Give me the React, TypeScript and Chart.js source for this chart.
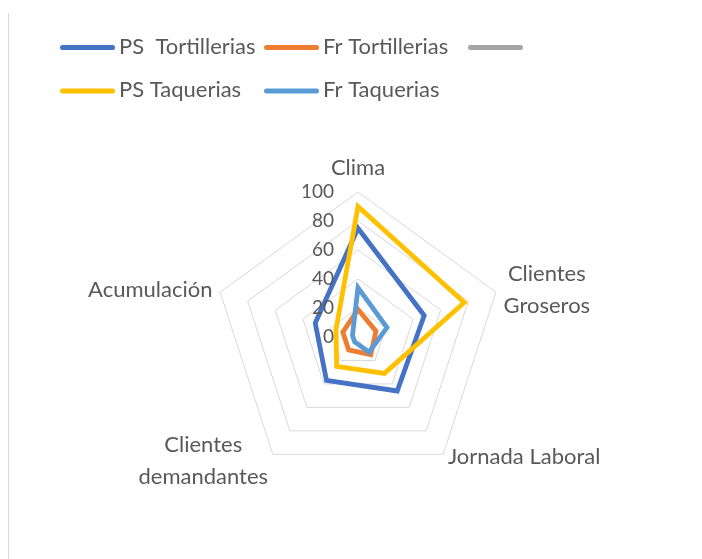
import { useEffect, useRef } from 'react';
import { Chart, registerables } from 'chart.js';

Chart.register(...registerables);

// ---- data ----
const CATEGORIES: (string | string[])[] = [
  'Clima',
  ['Clientes', 'Groseros'],
  'Jornada Laboral',
  ['Clientes', 'demandantes'],
  'Acumulación',
];
const SERIES_LABELS = ['PS  Tortillerias', 'Fr Tortillerias', '', 'PS Taquerias', 'Fr Taquerias'];
const PS_TORTILLERIAS = [75, 48, 46, 37, 31];
const FR_TORTILLERIAS = [19, 13, 15, 11, 11];
const SERIE_3: (number | null)[] = [null, null, null, null, null];
const PS_TAQUERIAS = [90, 77, 31, 25, 16];
const FR_TAQUERIAS = [34, 21, 13, 4, 4];
const SERIES_COLORS = ['#4472C4', '#ED7D31', '#A5A5A5', '#FFC000', '#5B9BD5'];
const AXIS_MIN = 0;
const AXIS_MAX = 100;
const AXIS_STEP = 20;

// ---- styles ----
const FONT_FAMILY = 'Lato, "Liberation Sans", sans-serif';
const TEXT_COLOR = '#595959';
const GRID_COLOR = '#D9D9D9';

const excelDecor = {
  id: 'excelDecor',
  afterDraw(chart: any) {
    const ctx: CanvasRenderingContext2D = chart.ctx;
    const scale = chart.scales.r;
    ctx.save();

    // left border of the chart area
    ctx.strokeStyle = GRID_COLOR;
    ctx.lineWidth = 1;
    ctx.beginPath();
    ctx.moveTo(8.5, 13);
    ctx.lineTo(8.5, chart.height);
    ctx.stroke();

    // tick labels (right aligned, left of the vertical axis)
    ctx.font = `19px ${FONT_FAMILY}`;
    ctx.fillStyle = TEXT_COLOR;
    ctx.textAlign = 'right';
    ctx.textBaseline = 'middle';
    scale.ticks.forEach((t: any) => {
      const d = scale.getDistanceFromCenterForValue(t.value);
      ctx.fillText(String(t.label ?? t.value), scale.xCenter - 24, scale.yCenter - d);
    });

    // point labels
    ctx.font = `22px ${FONT_FAMILY}`;
    const LH = 32;
    (chart.data.labels as (string | string[])[]).forEach((lab, i) => {
      const lines = Array.isArray(lab) ? lab : [lab];
      const p = scale.getPointPosition(i, scale.drawingArea + 8);
      const dx = p.x - scale.xCenter;
      const dy = p.y - scale.yCenter;
      const bw = Math.max(...lines.map((l) => ctx.measureText(l).width));
      let cx: number;
      let midY = p.y;
      if (Math.abs(dx) < 1) {
        cx = p.x;
        midY = p.y - (lines.length * LH) / 2;
      } else if (dx > 0) {
        cx = p.x + bw / 2;
      } else {
        cx = p.x - bw / 2;
      }
      if (dy > 0 && lines.length === 1) midY -= 4;
      ctx.textAlign = 'center';
      ctx.textBaseline = 'middle';
      lines.forEach((l, k) => {
        ctx.fillText(l, cx, midY + (k - (lines.length - 1) / 2) * LH);
      });
    });

    // legend (grid of 3 columns, as in Excel)
    const LX = 60;
    const LY = 47.5;
    const COL_W = 204;
    const ROW_H = 43.5;
    const LINE_LEN = 55;
    ctx.font = `22px ${FONT_FAMILY}`;
    chart.data.datasets.forEach((ds: any, i: number) => {
      const col = i % 3;
      const row = Math.floor(i / 3);
      const x = LX + col * COL_W;
      const y = LY + row * ROW_H;
      ctx.strokeStyle = ds.borderColor;
      ctx.lineWidth = 5;
      ctx.lineCap = 'round';
      ctx.beginPath();
      ctx.moveTo(x + 2.5, y);
      ctx.lineTo(x + LINE_LEN - 2.5, y);
      ctx.stroke();
      ctx.fillStyle = TEXT_COLOR;
      ctx.textAlign = 'left';
      ctx.textBaseline = 'middle';
      ctx.fillText(ds.label, x + LINE_LEN + 4, y - 1);
    });

    ctx.restore();
  },
};

export default function App() {
  const ref = useRef<HTMLCanvasElement>(null);

  useEffect(() => {
    if (!ref.current) return;
    const seriesData = [PS_TORTILLERIAS, FR_TORTILLERIAS, SERIE_3, PS_TAQUERIAS, FR_TAQUERIAS];
    const chart = new Chart(ref.current, {
      type: 'radar',
      data: {
        labels: CATEGORIES as any,
        datasets: seriesData.map((d, i) => ({
          label: SERIES_LABELS[i],
          data: d as any,
          borderColor: SERIES_COLORS[i],
          backgroundColor: 'transparent',
          fill: false,
          borderWidth: 4.8,
          pointRadius: 0,
          pointHoverRadius: 0,
          order: seriesData.length - i,
        })),
      },
      options: {
        animation: false,
        responsive: true,
        maintainAspectRatio: false,
        layout: { padding: { top: 192, bottom: 77, left: 60, right: 46 } },
        plugins: { legend: { display: false }, tooltip: { enabled: false } },
        elements: { line: { tension: 0, borderJoinStyle: 'miter' } },
        scales: {
          r: {
            min: AXIS_MIN,
            max: AXIS_MAX,
            ticks: { stepSize: AXIS_STEP, display: false },
            grid: { color: GRID_COLOR, lineWidth: 1 },
            angleLines: { display: false },
            pointLabels: { display: false },
          },
        },
      } as any,
      plugins: [excelDecor],
    });
    const fonts = (document as any).fonts;
    if (fonts && fonts.load) {
      Promise.all([fonts.load(`22px Lato`), fonts.load(`19px Lato`)]).then(() => chart.draw()).catch(() => {});
    }
    return () => chart.destroy();
  }, []);

  return (
    <div style={{ position: 'fixed', left: 0, top: 0, width: 702, height: 559, background: '#fff' }}>
      <canvas ref={ref} />
    </div>
  );
}
